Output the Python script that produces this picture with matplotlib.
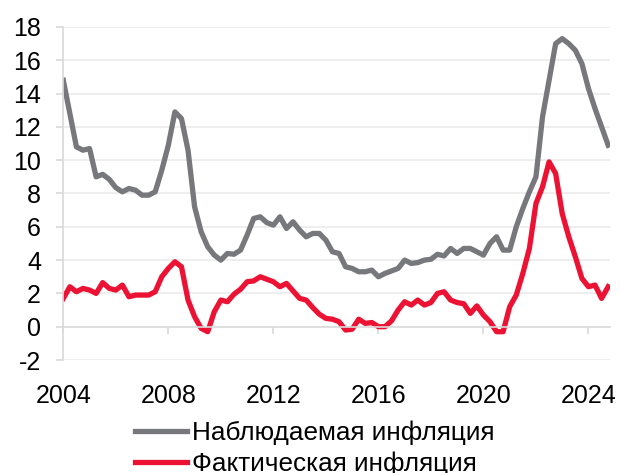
import numpy as np
import matplotlib
matplotlib.use('Agg')
import matplotlib.pyplot as plt

plt.rcParams['font.family'] = ['Liberation Sans', 'DejaVu Sans']

# quarterly, 2004Q1 .. 2024Q4
start_year = 2004
observed = [14.8, 12.8, 10.8, 10.6, 10.7, 9.0, 9.15, 8.85, 8.35, 8.1,
            8.3, 8.2, 7.9, 7.9, 8.1, 9.4, 10.9, 12.9, 12.5, 10.6,
            7.2, 5.7, 4.8, 4.3, 4.0, 4.4, 4.35, 4.6, 5.5, 6.5,
            6.6, 6.25, 6.1, 6.6, 5.9, 6.3, 5.8, 5.4, 5.6, 5.6,
            5.2, 4.5, 4.4, 3.6, 3.5, 3.3, 3.3, 3.4, 3.0, 3.2,
            3.35, 3.5, 4.0, 3.8, 3.85, 4.0, 4.05, 4.35, 4.25, 4.7,
            4.4, 4.7, 4.7, 4.5, 4.3, 5.0, 5.4, 4.6, 4.6, 6.0,
            7.1, 8.1, 9.0, 12.6, 14.8, 17.0, 17.3, 17.0, 16.6, 15.8,
            14.3, 13.1, 12.0, 10.9]
actual = [1.7, 2.4, 2.1, 2.3, 2.2, 2.0, 2.65, 2.3, 2.2, 2.5,
          1.8, 1.9, 1.9, 1.9, 2.1, 3.0, 3.5, 3.9, 3.6, 1.6,
          0.6, -0.1, -0.3, 0.9, 1.6, 1.5, 1.95, 2.25, 2.7, 2.75,
          3.0, 2.85, 2.7, 2.4, 2.6, 2.15, 1.7, 1.6, 1.15, 0.75,
          0.5, 0.45, 0.3, -0.2, -0.15, 0.45, 0.2, 0.25, 0.0, 0.0,
          0.35, 1.0, 1.5, 1.3, 1.6, 1.3, 1.45, 2.0, 2.1, 1.6,
          1.45, 1.38, 0.8, 1.25, 0.7, 0.3, -0.3, -0.3, 1.2, 1.9,
          3.2, 4.7, 7.4, 8.4, 9.9, 9.2, 6.8, 5.4, 4.2, 2.9,
          2.4, 2.5, 1.7, 2.4]
labels = ['Наблюдаемая инфляция', 'Фактическая инфляция']
colors = ['#77787B', '#EC1233']
year_ticks = [2004, 2008, 2012, 2016, 2020, 2024]
y_ticks = list(range(-2, 19, 2))

t = start_year + np.arange(len(observed)) / 4.0

fig = plt.figure(figsize=(6.2, 4.73), dpi=100)
ax = fig.add_axes([63.3/620, 1-360/473, (610-63.3)/620, (360-27)/473])

ax.plot(t, observed, color=colors[0], lw=3.8, label=labels[0])
ax.plot(t, actual, color=colors[1], lw=3.8, label=labels[1])

ax.set_xlim(2004, 2024.82)
ax.set_ylim(-2, 18)
ax.set_yticks(y_ticks)
ax.set_yticklabels([str(v) for v in y_ticks])
ax.set_xticks(year_ticks)
ax.set_xticklabels([str(v) for v in year_ticks])

for v in y_ticks:
    if v != 0:
        ax.axhline(v, color='#EBEBEB', lw=1.2, zorder=0)

for s in ['top', 'right']:
    ax.spines[s].set_visible(False)
ax.spines['bottom'].set_position(('data', 0))
ax.spines['bottom'].set_color('#D9D9D9')
ax.spines['bottom'].set_linewidth(1.2)
ax.spines['left'].set_color('#D9D9D9')
ax.spines['left'].set_linewidth(1.2)

ax.tick_params(axis='y', direction='out', length=5, width=1.2, color='#D9D9D9',
               labelsize=18, pad=11)
ax.tick_params(axis='x', direction='out', length=5, width=1.2, color='#D9D9D9',
               labelsize=18, pad=36)

fig.legend(loc='upper left', bbox_to_anchor=(135/620, 0.110), frameon=False,
           fontsize=18.8, handlelength=2.0, handletextpad=0.2, labelspacing=0.25,
           borderpad=0, borderaxespad=0)

fig.savefig('out.png', dpi=100)
